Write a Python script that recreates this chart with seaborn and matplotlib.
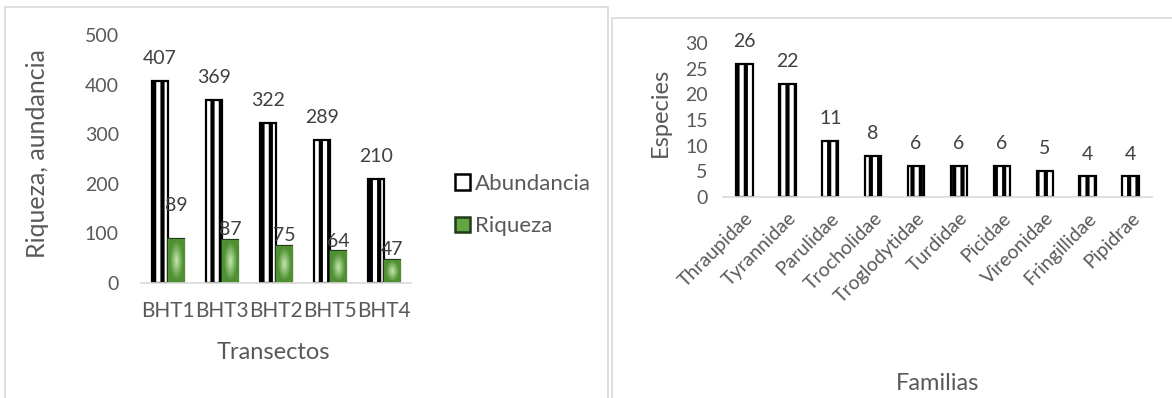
import numpy as np
import pandas as pd
import matplotlib
matplotlib.use("Agg")
import matplotlib.pyplot as plt
from matplotlib.patches import Rectangle, Patch
import seaborn as sns

# Datos: transectos
transectos = ["BHT1", "BHT3", "BHT2", "BHT5", "BHT4"]
abundancia = [407, 369, 322, 289, 210]
riqueza = [89, 87, 75, 64, 47]

# Datos: familias
familias = ["Thraupidae", "Tyrannidae", "Parulidae", "Trocholidae", "Troglodytidae",
            "Turdidae", "Picidae", "Vireonidae", "Fringillidae", "Pipidrae"]
especies = [26, 22, 11, 8, 6, 6, 6, 5, 4, 4]

sns.set_theme(style="white")
plt.rcParams["font.family"] = ["Lato", "DejaVu Sans"]
plt.rcParams["hatch.linewidth"] = 3.0
plt.rcParams["hatch.color"] = "black"

TXT = "#595959"
LBL = "#404040"
AXC = "#d9d9d9"

W, H = 1172, 398
fig = plt.figure(figsize=(W / 100, H / 100), dpi=100)
fig.patch.set_facecolor("white")


def fr(x0, y_top, x1, y_bot):
    return [x0 / W, 1 - y_bot / H, (x1 - x0) / W, (y_bot - y_top) / H]


# Marcos de los dos gráficos
fig.add_artist(Rectangle((5 / W, -0.05), (608 - 5) / W, 1.05 - 7 / H,
                         transform=fig.transFigure, fill=False, ec=AXC, lw=1.2))
fig.add_artist(Rectangle((612 / W, -0.05), 1.0, 1.05 - 18 / H,
                         transform=fig.transFigure, fill=False, ec=AXC, lw=1.2))


def style_axes(ax):
    for s in ["top", "right", "left"]:
        ax.spines[s].set_visible(False)
    ax.spines["bottom"].set_color(AXC)
    ax.spines["bottom"].set_linewidth(1.2)
    ax.tick_params(length=0, colors=TXT)
    ax.grid(False)
    ax.set_facecolor("none")


def gradient_fill(ax, bar, inner, outer):
    x0, y0 = bar.get_x(), bar.get_y()
    w, h = bar.get_width(), bar.get_height()
    yy, xx = np.mgrid[-1:1:60j, -1:1:30j]
    r = np.clip(np.sqrt(xx ** 2 + (yy * 0.9) ** 2) * 1.25, 0, 1)
    inner = np.array(matplotlib.colors.to_rgb(inner))
    outer = np.array(matplotlib.colors.to_rgb(outer))
    img = inner[None, None, :] * (1 - r[..., None]) + outer[None, None, :] * r[..., None]
    im = ax.imshow(img, extent=[x0, x0 + w, y0, y0 + h], aspect="auto",
                   origin="lower", zorder=bar.get_zorder() + 0.1, interpolation="bilinear")
    im.set_clip_path(bar)


# ---- Gráfico izquierdo: abundancia y riqueza por transecto ----
ax1 = fig.add_axes(fr(141, 35, 411, 283))
df1 = pd.DataFrame({
    "Transecto": transectos * 2,
    "Valor": abundancia + riqueza,
    "Serie": ["Abundancia"] * len(transectos) + ["Riqueza"] * len(transectos),
})
sns.barplot(data=df1, x="Transecto", y="Valor", hue="Serie", ax=ax1,
            width=0.6, gap=0, legend=False, errorbar=None)
style_axes(ax1)
ax1.set_yticks([0, 100, 200, 300, 400, 500])
ax1.tick_params(axis="y", pad=16, labelsize=14)
ax1.tick_params(axis="x", pad=13, labelsize=15)

ab_bars, ri_bars = ax1.containers[0], ax1.containers[1]
for b in ab_bars:
    b.set_facecolor("white")
    b.set_edgecolor("black")
    b.set_linewidth(1.6)
    b.set_hatch("||")
for b in ri_bars:
    b.set_facecolor("#62a543")
    b.set_edgecolor("#22391a")
    b.set_linewidth(1.6)
    gradient_fill(ax1, b, "#c6e8b0", "#4f9032")
ax1.set_ylim(0, 500)
ax1.set_xlim(-0.5, len(transectos) - 0.5)

for b, v in zip(ab_bars, abundancia):
    ax1.annotate(f"{v}", (b.get_x() + b.get_width() / 2, v), xytext=(0, 10),
                 textcoords="offset points", ha="center", va="bottom",
                 fontsize=14, color=LBL)
ri_offsets = [18, 1, 1, 1, 1]
for b, v, dy in zip(ri_bars, riqueza, ri_offsets):
    ax1.annotate(f"{v}", (b.get_x() + b.get_width() / 2, v), xytext=(0, dy),
                 textcoords="offset points", ha="center", va="bottom",
                 fontsize=14, color=LBL, zorder=1)

ax1.set_xlabel("Transectos", fontsize=17, color=TXT)
ax1.set_ylabel("Riqueza, aundancia", fontsize=18, color=TXT)
ax1.xaxis.set_label_coords(0.49, -0.28)
ax1.xaxis.label.set_va("center")
ax1.yaxis.set_label_coords(-0.385, 0.52)
ax1.yaxis.label.set_va("center")

handles = [Patch(facecolor="white", edgecolor="black", linewidth=1.8),
           Patch(facecolor="#62a543", edgecolor="#22391a", linewidth=1.8)]
fig.legend(handles, ["Abundancia", "Riqueza"], loc="center left",
           bbox_to_anchor=(446 / W, 1 - 205 / H), frameon=False, fontsize=16,
           labelcolor=TXT, handlelength=0.7, handleheight=0.7,
           handletextpad=0.2, labelspacing=1.0, borderaxespad=0)

# ---- Gráfico derecho: especies por familia ----
ax2 = fig.add_axes(fr(723, 43, 1152, 197))
df2 = pd.DataFrame({"Familia": familias, "Especies": especies})
sns.barplot(data=df2, x="Familia", y="Especies", ax=ax2, width=0.38,
            color="white", errorbar=None)
style_axes(ax2)
for b in ax2.containers[0]:
    b.set_facecolor("white")
    b.set_edgecolor("black")
    b.set_linewidth(1.6)
    b.set_hatch("||")
ax2.set_ylim(0, 30)
ax2.set_xlim(-0.5, len(familias) - 0.5)
ax2.set_yticks([0, 5, 10, 15, 20, 25, 30])
ax2.tick_params(axis="y", pad=11, labelsize=14)
ax2.tick_params(axis="x", pad=9, labelsize=14)
for lab in ax2.get_xticklabels():
    lab.set_rotation(45)
    lab.set_ha("right")
    lab.set_rotation_mode("anchor")
    lab.set_va("top")

for b, v in zip(ax2.containers[0], especies):
    ax2.annotate(f"{v}", (b.get_x() + b.get_width() / 2, v), xytext=(0, 10),
                 textcoords="offset points", ha="center", va="bottom",
                 fontsize=14, color=LBL)

ax2.set_xlabel("Familias", fontsize=17, color=TXT)
ax2.set_ylabel("Especies", fontsize=17, color=TXT)
ax2.xaxis.set_label_coords(0.5, -1.21)
ax2.xaxis.label.set_va("center")
ax2.yaxis.set_label_coords(-0.147, 0.55)
ax2.yaxis.label.set_va("center")

fig.savefig("out.png", dpi=100, facecolor="white")
